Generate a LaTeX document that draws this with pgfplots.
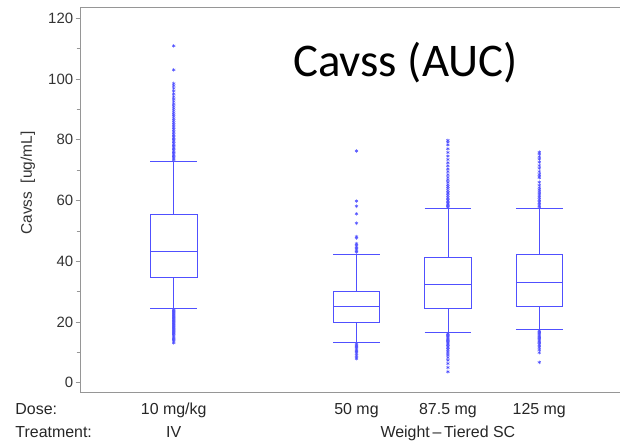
\documentclass[border=0pt]{standalone}
\usepackage{pgfplots}
\pgfplotsset{compat=1.18}
\usepackage{fontspec}
\setmainfont{Liberation Sans}
\newfontfamily\titlefont{Carlito}
\definecolor{bxblue}{RGB}{80,80,255}
\definecolor{axgray}{RGB}{150,150,150}
\begin{document}
\begin{tikzpicture}
\begin{axis}[
  name=ax,
  scale only axis,
  width=539.3bp, height=385.4bp,
  xmin=-0.0175, xmax=5.883,
  ymin=-3.3, ymax=123.6,
  axis y line*=left,
  axis x line*=box,
  axis line style={axgray, line width=0.7bp},
  xtick=\empty,
  ytick={0,20,40,60,80,100,120},
  minor ytick={10,30,50,70,90,110},
  tick align=outside,
  major tick length=5bp,
  minor tick length=4bp,
  tick style={axgray, line width=0.6bp},
  /pgf/number format/assume math mode=true,
  yticklabel style={font=\fontsize{15}{17}\selectfont, text=black!80, xshift=1bp},
  ylabel={Cavss\ \ [ug/mL]},
  ylabel style={font=\fontsize{15.5}{17}\selectfont, text=black!80, at={(rel axis cs:0,0.544)}, anchor=center, yshift=52.7bp},
  clip=false,
  bx/.style={bxblue, line width=0.8bp, mark=none},
  outl/.style={only marks, mark=asterisk, mark size=1.8bp, mark options={line width=0.5bp, draw=bxblue}},
]
% IV 10 mg/kg (x=1): q1=34.6 median=43.3 q3=55.3 whiskers 24.5/73.0
\addplot[bx] coordinates {(0.745,34.6) (1.255,34.6) (1.255,55.3) (0.745,55.3) (0.745,34.6)};
\addplot[bx] coordinates {(0.745,43.3) (1.255,43.3)};
\addplot[bx] coordinates {(1,55.3) (1,73.0)};
\addplot[bx] coordinates {(0.745,73.0) (1.255,73.0)};
\addplot[bx] coordinates {(1,34.6) (1,24.5)};
\addplot[bx] coordinates {(0.745,24.5) (1.255,24.5)};
% 50 mg (x=3): q1=19.7 median=25.0 q3=30.2 whiskers 13.3/42.4
\addplot[bx] coordinates {(2.745,19.7) (3.255,19.7) (3.255,30.2) (2.745,30.2) (2.745,19.7)};
\addplot[bx] coordinates {(2.745,25.0) (3.255,25.0)};
\addplot[bx] coordinates {(3,30.2) (3,42.4)};
\addplot[bx] coordinates {(2.745,42.4) (3.255,42.4)};
\addplot[bx] coordinates {(3,19.7) (3,13.3)};
\addplot[bx] coordinates {(2.745,13.3) (3.255,13.3)};
% 87.5 mg (x=4): q1=24.3 median=32.3 q3=41.3 whiskers 16.5/57.5
\addplot[bx] coordinates {(3.745,24.3) (4.255,24.3) (4.255,41.3) (3.745,41.3) (3.745,24.3)};
\addplot[bx] coordinates {(3.745,32.3) (4.255,32.3)};
\addplot[bx] coordinates {(4,41.3) (4,57.5)};
\addplot[bx] coordinates {(3.745,57.5) (4.255,57.5)};
\addplot[bx] coordinates {(4,24.3) (4,16.5)};
\addplot[bx] coordinates {(3.745,16.5) (4.255,16.5)};
% 125 mg (x=5): q1=25.2 median=33.1 q3=42.4 whiskers 17.6/57.5
\addplot[bx] coordinates {(4.745,25.2) (5.255,25.2) (5.255,42.4) (4.745,42.4) (4.745,25.2)};
\addplot[bx] coordinates {(4.745,33.1) (5.255,33.1)};
\addplot[bx] coordinates {(5,42.4) (5,57.5)};
\addplot[bx] coordinates {(4.745,57.5) (5.255,57.5)};
\addplot[bx] coordinates {(5,25.2) (5,17.6)};
\addplot[bx] coordinates {(4.745,17.6) (5.255,17.6)};
% outliers
\addplot[outl] table[y index=0, x expr=1] {
y
73.4
73.8
74.2
74.7
75.1
75.6
76.0
76.5
77.0
77.4
77.9
78.3
78.8
79.3
79.8
80.2
80.7
81.2
81.7
82.3
82.8
83.4
83.9
84.5
85.1
85.7
86.3
86.9
87.6
88.2
88.9
89.6
90.3
91.0
91.8
92.6
93.4
94.2
95.1
96.0
96.9
97.8
98.5
103.0
110.9
24.1
23.8
23.5
23.2
22.9
22.6
22.3
22.0
21.7
21.4
21.1
20.8
20.5
20.2
19.9
19.6
19.3
19.0
18.7
18.4
18.1
17.8
17.5
17.2
16.9
16.6
16.3
16.0
15.6
15.2
14.8
14.4
14.0
13.6
13.1
};
\addplot[outl] table[y index=0, x expr=3] {
y
43.0
43.4
43.9
44.3
44.8
45.3
45.8
47.6
48.1
52.5
55.6
58.1
59.8
76.3
12.9
12.5
12.1
11.7
11.3
10.9
10.5
10.1
9.6
9.0
8.4
7.9
};
\addplot[outl] table[y index=0, x expr=4] {
y
57.8
58.2
58.6
59.0
59.5
60.0
60.5
61.0
61.6
62.2
62.7
63.3
64.0
64.6
65.2
66.0
66.8
67.6
68.5
69.5
70.4
71.4
72.4
73.5
74.6
75.8
77.0
78.3
79.2
79.8
16.1
15.7
15.3
14.9
14.5
14.1
13.7
13.3
12.9
12.5
12.0
11.5
11.0
10.4
9.8
9.1
8.3
7.4
6.3
5.0
3.6
};
\addplot[outl] table[y index=0, x expr=5] {
y
57.9
58.3
58.8
59.3
59.8
60.3
60.9
61.5
62.1
62.8
63.5
64.2
65.0
66.0
67.5
68.0
68.6
69.5
70.6
71.5
72.6
73.6
74.4
75.3
75.9
17.1
16.7
16.3
15.9
15.5
15.1
14.7
14.3
13.9
13.5
13.1
12.6
12.1
11.5
10.8
9.9
6.7
};
% title and category labels
\node[anchor=base, font=\titlefont\fontsize{47}{52}\selectfont] at (rel axis cs:0.602,0.82) {Cavss (AUC)};
\begin{scope}[every node/.style={font=\fontsize{16}{18}\selectfont, text=black!85, anchor=base}]
\node[anchor=base west] at (axis cs:-0.77,-10.6) {Dose:};
\node[anchor=base west] at (axis cs:-0.77,-17.9) {Treatment:};
\node at (axis cs:1,-10.6) {10 mg/kg};
\node at (axis cs:3,-10.6) {50 mg};
\node at (axis cs:4,-10.6) {87.5 mg};
\node at (axis cs:5,-10.6) {125 mg};
\node at (axis cs:1,-17.9) {IV};
\node at (axis cs:4,-17.9) {Weight\,–\,Tiered SC};
\end{scope}
\end{axis}
\pgfresetboundingbox
\path[use as bounding box] ([shift={(-80.7bp,-49.3bp)}]ax.south west) rectangle ([shift={(539.3bp,392.7bp)}]ax.south west);
\end{tikzpicture}
\end{document}
